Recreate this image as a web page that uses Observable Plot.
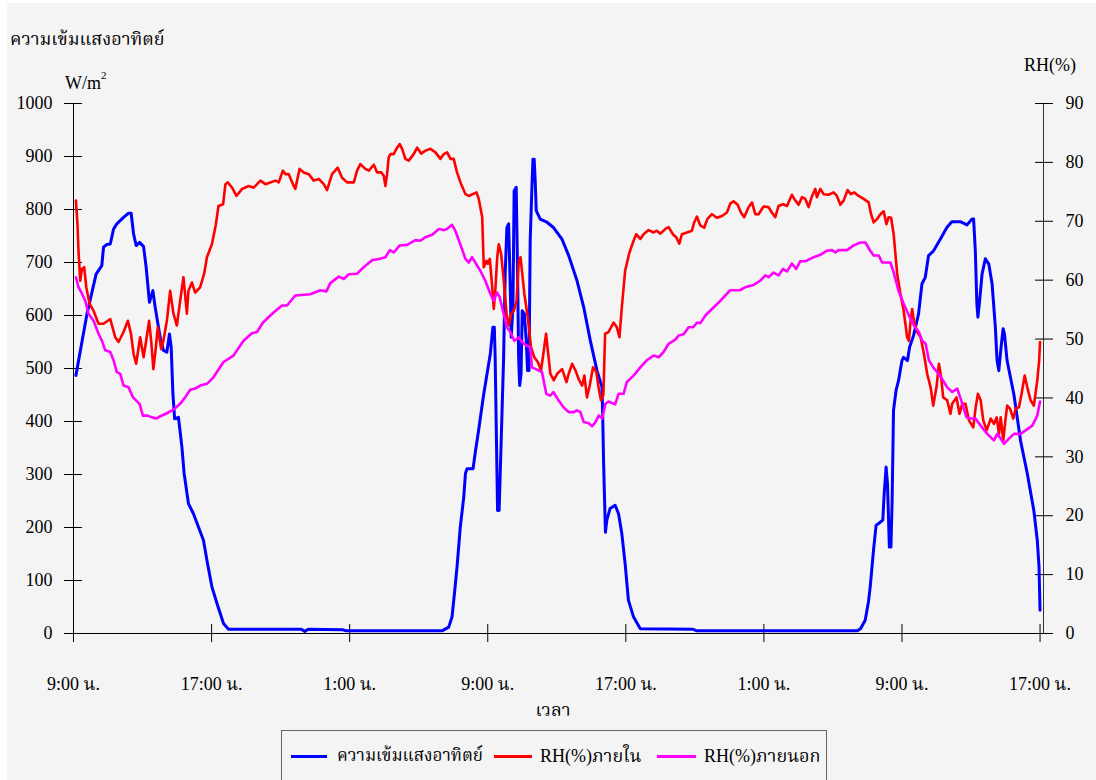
<!DOCTYPE html>
<html><head><meta charset="utf-8">
<script src="https://cdn.jsdelivr.net/npm/d3@7"></script>
<script src="https://cdn.jsdelivr.net/npm/@observablehq/plot@0.6"></script>
<style>
html,body{margin:0;padding:0;background:#fff;}
#page{position:relative;width:1096px;height:780px;overflow:hidden;font-family:"Liberation Serif","Times New Roman",serif;}
#bg{position:absolute;left:7px;top:3px;right:0;bottom:0;background:#f4f4f4;}
#chart{position:absolute;left:0;top:0;}
#legend{position:absolute;left:281px;top:730px;width:546px;height:70px;border:1px solid #666;box-sizing:border-box;font-size:18px;color:#000;}
#legend .ln{position:absolute;top:24px;height:3px;}
#legend .tx{position:absolute;top:14px;line-height:22px;white-space:nowrap;}
</style>
</head><body>
<div id="page"><div id="bg"></div><div id="chart"></div>
<div id="legend"></div></div>
<script>
// ---- data (hours since 9:00 of day 1) ----
const solarT = [0.14,0.78,1.31,1.64,1.74,1.93,2.13,2.32,2.51,2.90,3.19,3.34,3.48,3.63,3.83,4.06,4.21,4.40,4.60,4.73,5.02,5.21,5.41,5.56,5.66,5.76,5.86,6.08,6.28,6.41,6.66,6.95,7.53,7.73,8.02,8.31,8.69,8.98,10.0,13.2,13.4,13.6,15.6,15.8,21.35,21.74,21.93,22.07,22.22,22.41,22.61,22.71,22.80,23.15,23.28,23.47,23.76,24.15,24.30,24.38,24.43,24.49,24.57,24.66,24.78,24.92,25.01,25.11,25.21,25.31,25.36,25.46,25.53,25.65,25.73,25.79,25.85,25.93,26.00,26.12,26.23,26.31,26.39,26.46,26.56,26.62,26.69,26.75,26.81,27.04,27.43,27.81,28.30,28.69,29.17,29.56,29.94,30.33,30.62,30.67,30.71,30.77,30.82,30.90,31.09,31.38,31.58,31.77,31.96,32.15,32.45,32.84,35.9,36.1,45.4,45.6,45.87,46.06,46.16,46.35,46.50,46.74,46.89,46.97,47.08,47.16,47.27,47.36,47.43,47.51,47.66,47.80,48.0,48.09,48.32,48.44,48.67,48.96,49.16,49.35,49.54,49.83,50.22,50.60,50.89,51.38,51.77,52.06,52.15,52.25,52.34,52.40,52.50,52.64,52.83,53.03,53.22,53.41,53.51,53.61,53.74,53.86,53.94,54.09,54.48,54.87,55.26,55.64,55.84,55.94,56.0];
const solarV = [487,603,678,694,729,734,735,763,773,785,793,793,754,732,738,730,691,625,647,616,559,534,531,565,540,452,405,408,352,302,245,226,176,138,88,57,19,8,8,8,4,8,7,5,5,12,31,75,125,201,257,302,311,311,342,383,450,528,578,578,521,396,232,232,364,521,678,766,773,647,559,616,835,842,678,521,468,490,609,603,553,496,496,741,842,895,895,854,798,782,776,766,744,713,666,616,553,496,465,396,327,251,191,214,236,242,226,188,132,63,31,9,8,5,5,9,25,60,88,157,204,210,214,264,314,283,163,163,251,421,459,477,515,521,515,540,562,603,660,672,713,722,744,766,777,777,771,782,782,722,622,597,628,678,707,697,660,578,515,496,540,575,565,515,452,364,302,232,176,126,44];

const rhInT = [0.14,0.23,0.29,0.39,0.49,0.62,0.74,0.93,1.16,1.45,1.74,2.13,2.42,2.61,2.90,3.15,3.33,3.48,3.63,3.86,4.06,4.21,4.38,4.50,4.63,4.77,4.88,5.08,5.21,5.41,5.60,5.79,5.99,6.18,6.37,6.57,6.66,6.86,7.05,7.34,7.57,7.73,8.02,8.25,8.40,8.67,8.80,8.94,9.19,9.44,9.77,10.15,10.44,10.83,11.12,11.70,11.89,12.13,12.28,12.47,12.76,12.85,13.10,13.34,13.63,13.92,14.21,14.50,14.69,14.98,15.31,15.56,15.85,16.24,16.43,16.62,16.91,17.11,17.40,17.59,17.84,17.98,18.07,18.17,18.26,18.36,18.55,18.75,18.90,19.04,19.23,19.42,19.71,19.91,20.14,20.39,20.68,20.97,21.26,21.45,21.65,21.84,22.03,22.22,22.42,22.71,22.90,23.35,23.48,23.68,23.77,23.93,24.00,24.12,24.26,24.35,24.45,24.55,24.64,24.78,24.93,25.09,25.22,25.36,25.51,25.67,25.80,25.90,26.00,26.12,26.32,26.51,26.70,26.90,27.09,27.25,27.38,27.48,27.63,27.83,28.02,28.31,28.56,28.69,28.89,29.08,29.27,29.47,29.60,29.75,29.91,30.10,30.29,30.42,30.56,30.70,30.80,31.00,31.29,31.48,31.63,31.77,31.96,32.21,32.45,32.60,32.84,33.03,33.32,33.61,33.80,34.0,34.29,34.48,34.73,34.92,35.10,35.25,35.54,35.83,35.96,36.12,36.31,36.54,36.73,36.99,37.28,37.57,37.86,38.05,38.24,38.48,38.67,38.86,39.11,39.31,39.50,39.69,39.98,40.27,40.46,40.66,40.85,41.10,41.34,41.62,41.76,42.01,42.21,42.40,42.59,42.79,42.98,43.07,43.27,43.46,43.75,44.04,44.23,44.43,44.62,44.85,45.04,45.24,45.49,45.78,46.07,46.21,46.36,46.56,46.75,46.94,47.10,47.23,47.37,47.52,47.72,47.91,48.10,48.30,48.40,48.50,48.59,48.69,48.88,49.08,49.27,49.46,49.66,49.81,50.0,50.14,50.27,50.39,50.62,50.81,50.91,51.16,51.33,51.49,51.68,51.88,52.13,52.27,52.40,52.56,52.71,52.91,53.14,53.33,53.49,53.62,53.72,53.87,54.01,54.10,54.26,54.45,54.59,54.78,54.93,55.11,55.26,55.45,55.64,55.84,55.95,56.0];
const rhInV = [73.5,69.5,65.0,59.9,61.9,62.2,58.8,56.0,54.8,52.6,52.6,53.4,50.3,49.5,51.2,53.1,50.9,47.5,45.8,50.3,46.9,49.7,53.1,49.7,44.9,48.6,52.0,48.3,49.7,53.1,58.2,54.3,52.3,56.5,60.5,54.3,58.2,59.6,57.9,58.8,61.1,63.9,66.1,69.5,72.6,72.9,76.3,76.6,75.7,74.3,75.5,76.0,75.7,76.9,76.3,76.9,76.6,78.6,78.0,78.0,76.0,75.5,78.9,78.3,78.0,76.9,77.2,76.3,75.3,78.0,79.1,77.4,76.6,76.6,78.6,79.7,78.9,78.6,79.6,78.3,78.3,77.7,76.0,78.0,80.8,81.4,81.4,82.5,83.1,82.3,80.6,80.3,81.4,82.5,81.5,82.0,82.3,81.7,80.6,81.4,81.7,80.6,80.6,78.3,76.6,74.6,74.3,74.9,73.8,70.7,62.2,63.3,62.8,63.6,58.8,55.1,58.8,63.9,66.1,64.4,59.9,54.3,52.3,54.3,54.8,56.5,63.3,63.9,61.1,57.7,53.7,48.6,46.9,46.1,44.7,48.1,50.9,48.1,44.1,43.0,44.1,44.9,42.7,44.1,45.8,44.7,43.2,42.1,43.8,40.1,42.1,45.2,44.4,41.8,39.6,40.5,50.9,51.2,52.8,52.0,50.3,55.4,61.6,64.7,66.7,67.8,67.0,67.8,68.5,68.1,68.4,67.9,68.7,69.0,67.8,67.3,66.2,67.8,68.1,68.4,69.8,70.8,69.3,68.9,70.4,71.2,70.6,70.9,71.5,73.0,73.4,72.8,71.5,70.7,72.4,73.2,71.2,71.2,72.5,72.4,71.5,70.7,72.6,72.9,72.6,74.5,73.8,72.8,74.1,73.8,72.4,74.3,75.5,74.1,75.5,74.6,74.5,74.9,74.3,72.8,73.5,75.3,74.6,74.9,74.3,73.8,73.2,71.2,69.8,70.4,71.2,71.7,69.5,70.7,70.6,67.8,61.1,57.7,54.8,50.3,49.7,53.1,55.1,53.1,51.2,50.3,47.5,44.1,41.8,38.7,41.8,45.8,43.5,40.1,39.6,37.3,39.0,40.1,37.3,39.0,39.0,36.2,35.0,38.4,40.7,39.6,36.2,34.5,36.5,35.6,36.7,33.9,36.7,32.8,36.7,38.7,38.2,36.5,38.2,38.4,40.7,43.8,41.8,39.6,38.7,43.0,46.4,49.5];

const rhOutT = [0.14,0.29,0.49,0.68,0.87,1.16,1.45,1.65,1.84,2.13,2.32,2.51,2.71,2.90,3.19,3.45,3.83,4.02,4.29,4.55,4.80,5.03,5.41,5.79,6.18,6.47,6.76,7.05,7.34,7.73,8.11,8.69,9.27,9.85,10.34,10.63,10.98,11.59,12.08,12.37,12.85,13.72,14.30,14.65,14.88,15.37,15.66,15.95,16.43,16.81,17.30,17.69,18.07,18.33,18.55,18.90,19.33,19.81,20.10,20.39,20.78,21.17,21.45,21.64,21.93,22.12,22.41,22.71,22.90,23.09,23.38,23.57,23.86,24.15,24.34,24.54,24.69,24.92,25.11,25.31,25.54,25.80,25.99,26.23,26.46,26.56,26.85,27.14,27.39,27.62,27.81,28.10,28.39,28.69,28.98,29.17,29.37,29.56,29.85,30.05,30.24,30.43,30.63,30.82,31.00,31.38,31.58,31.87,32.06,32.45,32.84,33.22,33.61,33.90,34.19,34.48,34.87,35.06,35.35,35.64,35.90,36.13,36.32,36.61,36.99,37.38,37.67,38.05,38.63,38.92,39.40,39.79,40.08,40.27,40.56,40.85,41.10,41.34,41.62,41.87,42.10,42.40,42.88,43.27,43.66,43.95,44.14,44.33,44.82,45.20,45.59,45.88,46.16,46.36,46.65,46.85,47.33,47.52,47.80,48.10,48.40,48.69,48.98,49.17,49.37,49.56,49.81,50.04,50.33,50.62,50.91,51.20,51.43,51.74,51.97,52.26,52.56,52.94,53.33,53.52,53.72,53.91,54.20,54.49,54.87,55.16,55.55,55.84,56.0];
const rhOutV = [60.5,58.8,57.7,56.5,54.3,53.1,50.9,49.7,48.1,47.8,46.4,44.4,44.1,42.1,41.8,40.1,39.0,37.0,37.0,36.7,36.5,36.9,37.4,38.0,39.0,40.1,41.4,41.6,42.1,42.4,43.5,46.1,47.2,49.7,51.0,51.2,52.8,54.5,55.7,55.7,57.4,57.6,58.3,58.1,59.5,60.6,60.2,61.0,61.1,62.2,63.4,63.6,63.9,65.1,64.7,65.9,66.0,66.8,66.7,67.3,67.7,68.7,68.5,68.7,69.4,68.4,66.1,63.6,63.0,63.9,62.5,61.6,59.9,57.7,56.5,57.9,57.1,54.3,52.0,51.2,49.7,50.3,49.5,48.9,48.6,45.2,44.8,44.4,40.7,40.4,41.0,39.6,38.4,37.6,37.6,37.9,37.6,35.9,35.7,35.2,35.9,37.0,36.5,39.0,39.4,38.9,40.7,40.7,42.7,43.8,45.2,46.4,47.2,46.9,47.8,49.2,49.9,50.6,50.8,52.0,52.0,52.8,52.7,54.0,55.1,56.2,57.1,58.3,58.3,58.8,59.2,59.9,60.8,60.5,61.3,60.8,61.9,61.5,62.8,61.9,63.2,63.2,63.9,64.3,65.0,65.1,64.7,65.1,65.1,65.9,66.4,66.4,65.0,64.2,64.2,63.0,63.0,61.3,58.2,56.0,54.0,52.3,51.2,49.7,49.2,46.4,45.2,44.4,43.2,41.8,41.0,41.6,39.6,36.7,36.5,36.5,35.3,33.9,32.8,33.9,33.1,32.2,33.1,33.9,33.9,34.5,35.3,37.0,39.4];

const xTicks = [0,8,16,24,32,40,48,56];
const xTickLabels = ["9:00 น.","17:00 น.","1:00 น.","9:00 น.","17:00 น.","1:00 น.","9:00 น.","17:00 น."];
const leftTicks = [0,100,200,300,400,500,600,700,800,900,1000];
const rightTicks = [0,10,20,30,40,50,60,70,80,90];
const seriesNames = ["ความเข้มแสงอาทิตย์","RH(%)ภายใน","RH(%)ภายนอก"];
const seriesColors = ["#0000ff","#ff0000","#ff00ff"];

// ---- build tables ----
const K = 1000/90; // RH -> left scale
const solar = solarT.map((t,i)=>({t, v: solarV[i]}));
const rhIn = rhInT.map((t,i)=>({t, v: rhInV[i]*K}));
const rhOut = rhOutT.map((t,i)=>({t, v: rhOutV[i]*K}));
const xDomain = [0, 56.2];

const FONT = '"Liberation Serif","Times New Roman","Noto Serif Thai","Noto Sans Thai",serif';
const chart = Plot.plot({
  width: 1096, height: 725,
  marginLeft: 73, marginRight: 53, marginTop: 103, marginBottom: 92,
  style: {background: "transparent", fontFamily: FONT, fontSize: "18px", color: "#000"},
  x: {domain: xDomain, axis: null},
  y: {domain: [0, 1000], axis: null},
  marks: [
    Plot.ruleX([xDomain[0]], {stroke: "#000", strokeWidth: 1}),
    Plot.ruleX([xDomain[1]], {stroke: "#333", strokeWidth: 1}),
    Plot.ruleY([0], {stroke: "#000", insetLeft: -9, insetRight: -10}),
    Plot.axisY(leftTicks, {anchor: "left", tickSize: 18, dx: 9, tickPadding: 12, fontSize: 18, label: null,
      tickFormat: d => String(d)}),
    Plot.axisY(rightTicks.map(v => v*K), {anchor: "right", tickSize: 18, dx: -9, tickPadding: 13, fontSize: 18, label: null,
      tickFormat: d => String(Math.round(d/K))}),
    Plot.axisX(xTicks, {anchor: "bottom", tickSize: 18, dy: -9, tickPadding: 35, fontSize: 18, label: null,
      tickFormat: d => xTickLabels[xTicks.indexOf(d)]}),
    Plot.line(solar, {x: "t", y: "v", stroke: seriesColors[0], strokeWidth: 3}),
    Plot.line(rhIn, {x: "t", y: "v", stroke: seriesColors[1], strokeWidth: 2.6}),
    Plot.line(rhOut, {x: "t", y: "v", stroke: seriesColors[2], strokeWidth: 2.6})
  ]
});
document.getElementById("chart").appendChild(chart);

// static labels
const svg = d3.select(chart);
const g = svg.append("g").attr("font-family", FONT).attr("fill", "#000").attr("text-anchor", "start");
g.append("text").attr("x", 10).attr("y", 45).attr("font-size", 18).attr("text-anchor", "start").text(seriesNames[0]);
const wm = g.append("text").attr("x", 65).attr("y", 89).attr("font-size", 18).attr("text-anchor", "start");
wm.append("tspan").text("W/m");
wm.append("tspan").attr("font-size", 11).attr("dy", -10).text("2");
g.append("text").attr("x", 1024).attr("y", 71).attr("font-size", 18).attr("text-anchor", "start").text("RH(%)");
g.append("text").attr("x", 553).attr("y", 716).attr("font-size", 18).attr("text-anchor", "middle").text("เวลา");

// legend
const leg = d3.select("#legend");
const lineLeft = [9, 212, 375], lineW = [36, 38, 39], textLeft = [55, 258, 422], textSize = [17, 18, 18];
seriesNames.forEach((n, i) => {
  leg.append("div").attr("class", "ln").style("left", lineLeft[i] + "px").style("width", lineW[i] + "px").style("background", seriesColors[i]);
  leg.append("div").attr("class", "tx").style("left", textLeft[i] + "px").style("font-family", FONT).style("font-size", textSize[i] + "px").text(n);
});
</script>
</body></html>
